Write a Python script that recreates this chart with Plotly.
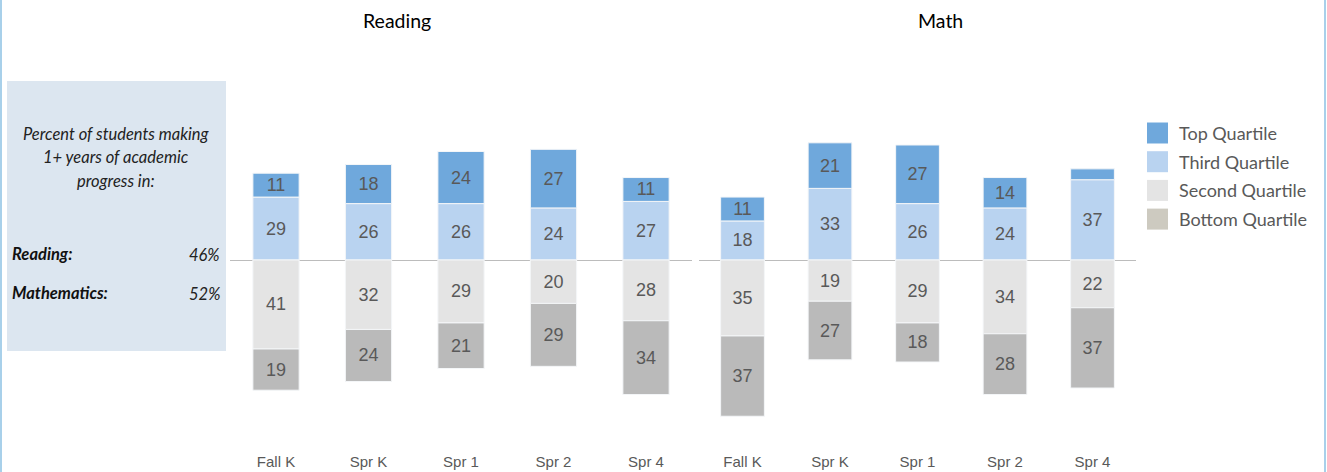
import plotly.graph_objects as go

W, H = 1327, 472

categories = ["Fall K", "Spr K", "Spr 1", "Spr 2", "Spr 4"]

reading_top = [11, 18, 24, 27, 11]
reading_third = [29, 26, 26, 24, 27]
reading_second = [41, 32, 29, 20, 28]
reading_bottom = [19, 24, 21, 29, 34]

math_top = [11, 21, 27, 14, 5]
math_third = [18, 33, 26, 24, 37]
math_second = [35, 19, 29, 34, 22]
math_bottom = [37, 27, 18, 28, 37]

legend_names = ["Top Quartile", "Third Quartile", "Second Quartile", "Bottom Quartile"]
bar_colors = {"top": "#6fa8dc", "third": "#b9d3f0", "second": "#e4e4e4", "bottom": "#bababa"}
legend_colors = ["#6fa8dc", "#b9d3f0", "#e4e4e4", "#cdcac0"]

summary_labels = ["Reading:", "Mathematics:"]
summary_values = ["46%", "52%"]

MIN_LABEL = 8  # segments too thin for a label are left unlabeled, as in the source


def px_x(v):
    return v / W


def px_y(v):
    return 1 - v / H


fig = go.Figure()

label_font = dict(family="Liberation Sans, Arial", size=18, color="#595959")


def add_panel(top, third, second, bottom, xa, ya):
    for vals, key, sign in [(third, "third", 1), (top, "top", 1), (second, "second", -1), (bottom, "bottom", -1)]:
        fig.add_trace(go.Bar(
            x=categories, y=[sign * v for v in vals],
            text=[str(v) if v >= MIN_LABEL else "" for v in vals], textposition="inside",
            insidetextanchor="middle", textfont=label_font, textangle=0,
            marker=dict(color=bar_colors[key], line=dict(color="#f4f6f8", width=1)),
            xaxis=xa, yaxis=ya, showlegend=False, hoverinfo="skip",
        ))


add_panel(reading_top, reading_third, reading_second, reading_bottom, "x", "y")
add_panel(math_top, math_third, math_second, math_bottom, "x2", "y2")

plot_top_px, plot_bot_px, zero_px, ppu = 40, 445, 260, 2.17
y_range = [-(plot_bot_px - zero_px) / ppu, (zero_px - plot_top_px) / ppu]
y_dom = [px_y(plot_bot_px), px_y(plot_top_px)]

tick_font = dict(family="Liberation Sans Narrow, Arial Narrow, Liberation Sans", size=15, color="#595959")
xcommon = dict(showgrid=False, zeroline=False, showline=False, ticks="", tickfont=tick_font,
               automargin=False, ticklabelstandoff=6)
ycommon = dict(range=y_range, domain=y_dom, showgrid=False, zeroline=True, zerolinecolor="#bcbcbc",
               zerolinewidth=1, showticklabels=False, showline=False, automargin=False)

fig.update_layout(
    width=W, height=H,
    margin=dict(l=0, r=0, t=0, b=0),
    paper_bgcolor="white", plot_bgcolor="white",
    barmode="relative", bargap=0.5,
    uniformtext=dict(minsize=18, mode="show"),
    xaxis=dict(domain=[px_x(229.75), px_x(692.25)], **xcommon),
    xaxis2=dict(domain=[px_x(698.75), px_x(1136.25)], **xcommon),
    yaxis=dict(**ycommon),
    yaxis2=dict(anchor="x2", **ycommon),
)

shapes = []
annotations = []

# panel titles
for txt, cx in [("Reading", 397), ("Math", 940)]:
    annotations.append(dict(text=txt, x=px_x(cx), y=px_y(20), xref="paper", yref="paper",
                            showarrow=False, xanchor="center", yanchor="middle",
                            font=dict(family="Lato, Noto Sans", size=19.5, color="#000000")))

# left info box
shapes.append(dict(type="rect", xref="paper", yref="paper", x0=px_x(7), x1=px_x(226),
                   y0=px_y(351), y1=px_y(81), fillcolor="#dce6f0", line=dict(width=0), layer="below"))
for i, line in enumerate(["Percent of students making", "1+ years of academic", "progress in:"]):
    annotations.append(dict(text=f"<i>{line}</i>", x=px_x(116), y=px_y(134 + 23.5 * i),
                            xref="paper", yref="paper", showarrow=False, xanchor="center", yanchor="middle",
                            font=dict(family="Lato, Noto Sans", size=16.5, color="#222222")))
for lab, val, cy in zip(summary_labels, summary_values, [254, 293]):
    annotations.append(dict(text=f"<b><i>{lab}</i></b>", x=px_x(10), y=px_y(cy), xref="paper", yref="paper",
                            showarrow=False, xanchor="left", yanchor="middle",
                            font=dict(family="Lato, Noto Sans", size=16.5, color="#111111")))
    annotations.append(dict(text=f"<i>{val}</i>", x=px_x(222), y=px_y(cy + 1), xref="paper", yref="paper",
                            showarrow=False, xanchor="right", yanchor="middle",
                            font=dict(family="Lato, Noto Sans", size=16.5, color="#222222")))

# custom legend
for i, (name, col) in enumerate(zip(legend_names, legend_colors)):
    cy = 133 + 28.7 * i
    shapes.append(dict(type="rect", xref="paper", yref="paper", x0=px_x(1147), x1=px_x(1168),
                       y0=px_y(cy + 10.5), y1=px_y(cy - 10.5), fillcolor=col, line=dict(width=0)))
    annotations.append(dict(text=name, x=px_x(1177), y=px_y(cy), xref="paper", yref="paper",
                            showarrow=False, xanchor="left", yanchor="middle",
                            font=dict(family="Lato, Noto Sans", size=18, color="#595959")))

# light blue frame edges
for xv in [1, 1325]:
    shapes.append(dict(type="line", xref="paper", yref="paper", x0=px_x(xv), x1=px_x(xv), y0=0, y1=1,
                       line=dict(color="#a8d0ea", width=2)))

fig.update_layout(shapes=shapes, annotations=annotations)

fig.write_html("out.html", config={"displayModeBar": False},
               post_script="document.body.style.margin='0';document.body.style.overflow='hidden';")
